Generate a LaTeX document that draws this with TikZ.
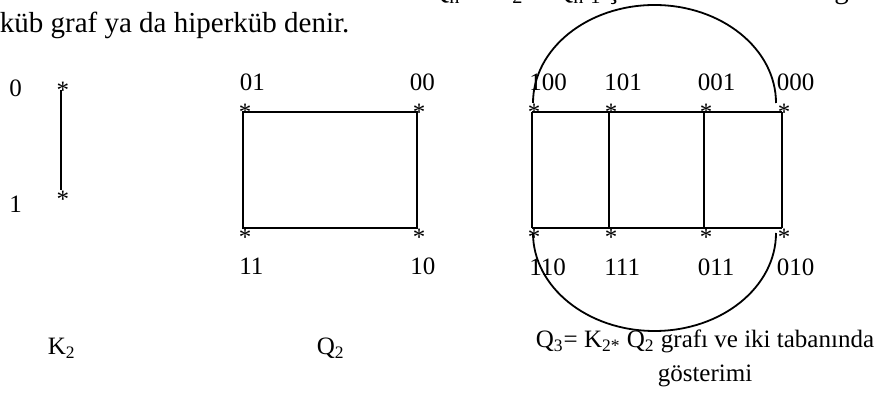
\documentclass[tikz,border=0pt]{standalone}
\usepackage{fontspec}
\setmainfont{Liberation Serif}
\usetikzlibrary{positioning}

\begin{document}
\begin{tikzpicture}[
    x=0.5pt, y=-0.5pt,
    prose/.style={font=\fontsize{14.5}{17}\selectfont, inner sep=0pt, anchor=base west},
    lbl/.style={font=\fontsize{12.5}{15}\selectfont, inner sep=0pt, anchor=base west},
    ast/.style={font=\fontsize{12.5}{15}\selectfont, inner sep=0pt, anchor=base},
    edge/.style={line width=0.9pt}
]
  \useasboundingbox (0,0) rectangle (889,394);

  % -------------------------------------------------------------
  % METIN (ust satirlar, kismen kesik)
  % -------------------------------------------------------------
  \node[prose] (txt_top) at (428, -1) {Q\textsubscript{n} = K\textsubscript{2} * Q\textsubscript{n-1} ş};
  \node[prose] (txt_g) at (834, -1) {g};
  \node[prose] (txt_line) at (-0.5, 33) {küb graf ya da hiperküb denir.};

  % -------------------------------------------------------------
  % K2
  % -------------------------------------------------------------
  \coordinate (k_0) at (61, 90);
  \coordinate (k_1) at (61, 190);
  \draw[edge] (k_0) -- (k_1);
  \node[ast] (s_k0) at ([shift={(2,9)}]k_0) {*};
  \node[ast] (s_k1) at ([shift={(2,18)}]k_1) {*};
  \node[lbl] (l_k0) at (9, 97) {0};
  \node[lbl] (l_k1) at (9, 213) {1};

  % -------------------------------------------------------------
  % Q2
  % -------------------------------------------------------------
  \coordinate (q_01) at (243, 112);
  \coordinate (q_00) at (417, 112);
  \coordinate (q_11) at (243, 228);
  \coordinate (q_10) at (417, 228);
  \draw[edge] (q_01) -- (q_00) -- (q_10) -- (q_11) -- cycle;
  \node[ast] (s_q01) at ([shift={(2,9)}]q_01) {*};
  \node[ast] (s_q00) at ([shift={(2,9)}]q_00) {*};
  \node[ast] (s_q11) at ([shift={(2,18)}]q_11) {*};
  \node[ast] (s_q10) at ([shift={(2,18)}]q_10) {*};
  \node[lbl] (l_q01) at (239.5, 91) {01};
  \node[lbl] (l_q00) at (409.5, 91) {00};
  \node[lbl] (l_q11) at (239, 275) {11};
  \node[lbl] (l_q10) at (410, 275) {10};

  % -------------------------------------------------------------
  % Q3 (iki tabanda)
  % -------------------------------------------------------------
  \coordinate (h_100) at (532, 112);
  \coordinate (h_101) at (609, 112);
  \coordinate (h_001) at (704, 112);
  \coordinate (h_000) at (782, 112);
  \coordinate (h_110) at (532, 228);
  \coordinate (h_111) at (609, 228);
  \coordinate (h_011) at (704, 228);
  \coordinate (h_010) at (782, 228);

  \draw[edge] (h_100) -- (h_101) -- (h_001) -- (h_000);
  \draw[edge] (h_110) -- (h_111) -- (h_011) -- (h_010);
  \draw[edge] (h_100) -- (h_110);
  \draw[edge] (h_101) -- (h_111);
  \draw[edge] (h_001) -- (h_011);
  \draw[edge] (h_000) -- (h_010);

  % dis kenarlar: 100-000 ve 110-010
  \draw[edge] ([shift={(1,-9)}]h_100) arc[start angle=180, end angle=0, x radius=60.75pt, y radius=49pt];
  \draw[edge] ([shift={(1,5)}]h_110) arc[start angle=180, end angle=360, x radius=60.75pt, y radius=49pt];

  \node[ast] (s_h100) at ([shift={(2,9)}]h_100) {*};
  \node[ast] (s_h101) at ([shift={(2,9)}]h_101) {*};
  \node[ast] (s_h001) at ([shift={(2,9)}]h_001) {*};
  \node[ast] (s_h000) at ([shift={(2,9)}]h_000) {*};
  \node[ast] (s_h110) at ([shift={(2,18)}]h_110) {*};
  \node[ast] (s_h111) at ([shift={(2,18)}]h_111) {*};
  \node[ast] (s_h011) at ([shift={(2,18)}]h_011) {*};
  \node[ast] (s_h010) at ([shift={(2,18)}]h_010) {*};

  \node[lbl] (l_h100) at (529, 91) {100};
  \node[lbl] (l_h101) at (604, 91) {101};
  \node[lbl] (l_h001) at (697.5, 91) {001};
  \node[lbl] (l_h000) at (776.5, 91) {000};
  \node[lbl] (l_h110) at (529, 276) {110};
  \node[lbl] (l_h111) at (604, 276) {111};
  \node[lbl] (l_h011) at (697.5, 276) {011};
  \node[lbl] (l_h010) at (776.5, 276) {010};

  % -------------------------------------------------------------
  % ALT YAZILAR
  % -------------------------------------------------------------
  \node[lbl] (cap_k2) at (47.5, 355) {K\textsubscript{2}};
  \node[lbl] (cap_q2) at (316.5, 355) {Q\textsubscript{2}};
  \node[font=\fontsize{12.5}{17}\selectfont, inner sep=0pt, anchor=base, align=center] (cap_q3) at (705, 382) {
    Q\textsubscript{3}= K\textsubscript{2*} Q\textsubscript{2} grafı ve iki tabanında\\gösterimi
  };

\end{tikzpicture}
\end{document}
